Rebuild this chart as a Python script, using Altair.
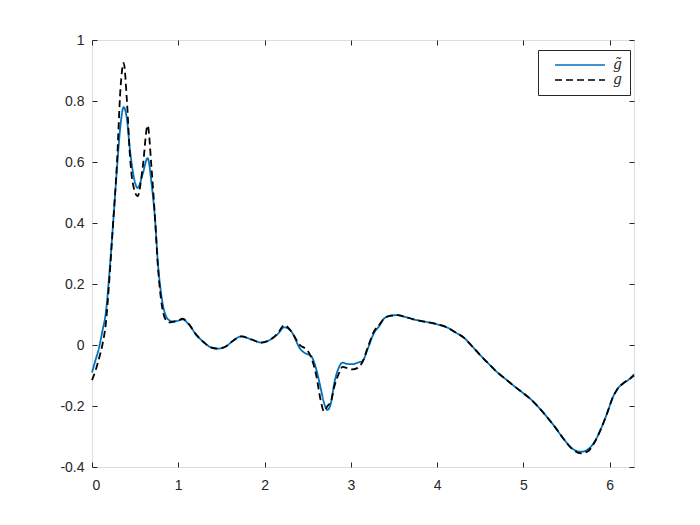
import altair as alt
import pandas as pd

# x positions of readings (radians, 0..2*pi)
x_vals = [0, 0.04, 0.085, 0.12, 0.162, 0.2, 0.24, 0.29, 0.33, 0.367, 0.405, 0.44, 0.47, 0.529,
          0.587, 0.645, 0.69, 0.734, 0.761, 0.8, 0.857, 0.9, 0.935, 1.0, 1.05, 1.12, 1.205, 1.30,
          1.38, 1.456, 1.55, 1.64, 1.73, 1.85, 1.96, 2.07, 2.15, 2.23, 2.306, 2.42, 2.46, 2.54,
          2.6, 2.65, 2.69, 2.73, 2.77, 2.81, 2.86, 2.905, 2.96, 3.02, 3.08, 3.137, 3.2, 3.27,
          3.33, 3.39, 3.465, 3.54, 3.62, 3.73, 3.85, 4.0, 4.12, 4.21, 4.31, 4.41, 4.51, 4.6,
          4.7, 4.8, 4.89, 5.0, 5.087, 5.18, 5.28, 5.37, 5.47, 5.57, 5.67, 5.75, 5.82, 5.9,
          5.975, 6.04, 6.09, 6.17, 6.23, 6.283]

# estimated g-tilde (solid blue)
g_tilde = [-0.09, -0.05, -0.005, 0.045, 0.11, 0.23, 0.38, 0.58, 0.72, 0.78, 0.74, 0.64, 0.575, 0.515,
           0.56, 0.613, 0.53, 0.4, 0.28, 0.171, 0.095, 0.08, 0.077, 0.08, 0.084, 0.068, 0.035, 0.008,
           -0.008, -0.012, -0.005, 0.015, 0.028, 0.018, 0.008, 0.018, 0.035, 0.058, 0.046, -0.015, -0.025, -0.036,
           -0.08, -0.14, -0.19, -0.213, -0.19, -0.123, -0.075, -0.058, -0.062, -0.063, -0.058, -0.052, -0.01, 0.04,
           0.062, 0.088, 0.096, 0.098, 0.093, 0.084, 0.077, 0.068, 0.057, 0.042, 0.024, -0.005, -0.036, -0.062,
           -0.09, -0.113, -0.134, -0.158, -0.178, -0.205, -0.238, -0.27, -0.309, -0.34, -0.35, -0.342, -0.32, -0.275,
           -0.221, -0.17, -0.145, -0.123, -0.112, -0.096]

# true g (dashed black)
g_true = [-0.115, -0.085, -0.04, 0.0, 0.075, 0.21, 0.38, 0.6, 0.84, 0.925, 0.8, 0.62, 0.535, 0.488,
          0.58, 0.72, 0.58, 0.4, 0.27, 0.15, 0.082, 0.074, 0.076, 0.08, 0.086, 0.07, 0.035, 0.008,
          -0.008, -0.012, -0.005, 0.015, 0.028, 0.018, 0.008, 0.018, 0.037, 0.065, 0.046, -0.003, -0.009, -0.04,
          -0.1, -0.18, -0.218, -0.2, -0.185, -0.135, -0.095, -0.072, -0.076, -0.08, -0.075, -0.055, -0.005, 0.045,
          0.066, 0.088, 0.096, 0.098, 0.093, 0.084, 0.077, 0.068, 0.057, 0.042, 0.024, -0.005, -0.036, -0.062,
          -0.09, -0.113, -0.134, -0.158, -0.178, -0.205, -0.238, -0.27, -0.309, -0.342, -0.355, -0.348, -0.322, -0.275,
          -0.221, -0.17, -0.145, -0.123, -0.112, -0.1]

series_names = ["g\u0303", "g"]
x_ticks = [0, 1, 2, 3, 4, 5, 6]
y_ticks = [-0.4, -0.2, 0, 0.2, 0.4, 0.6, 0.8, 1]

assert len(x_vals) == len(g_tilde) == len(g_true)

df = pd.concat([
    pd.DataFrame({"x": x_vals, "y": g_tilde, "series": series_names[0], "order": 0}),
    pd.DataFrame({"x": x_vals, "y": g_true, "series": series_names[1], "order": 1}),
])

W, H = 542, 427
AX = "#262626"
FONT = "Liberation Sans"

xscale = alt.Scale(domain=[0, 6.283185], nice=False, zero=False)
yscale = alt.Scale(domain=[-0.4, 1], nice=False, zero=False)

legend = alt.Legend(
    title=None, orient="none", legendX=446, legendY=10,
    strokeColor=AX, fillColor="white", padding=8,
    symbolType="M-5,0H5", symbolSize=100, symbolStrokeWidth=1.6, symbolOffset=27,
    labelFont="DejaVu Serif", labelFontStyle="italic", labelFontSize=14, labelColor=AX,
    labelOffset=26, rowPadding=1,
)

base = alt.Chart(df)

lines = base.mark_line(interpolate="monotone", strokeWidth=1.8).encode(
    x=alt.X("x:Q", scale=xscale, title=None,
            axis=alt.Axis(orient="bottom", values=x_ticks, ticks=False, domain=False, grid=False,
                          labelFont=FONT, labelFontSize=14, labelColor=AX, labelPadding=11,
                          labelExpr="toString(round(datum.value*10)/10)")),
    y=alt.Y("y:Q", scale=yscale, title=None,
            axis=alt.Axis(orient="left", values=y_ticks, ticks=False, domain=False, grid=False,
                          labelFont=FONT, labelFontSize=14, labelColor=AX, labelPadding=8,
                          labelExpr="toString(round(datum.value*10)/10)")),
    color=alt.Color("series:N", scale=alt.Scale(domain=series_names, range=["#0072BD", "#000000"]),
                    legend=legend),
    strokeDash=alt.StrokeDash("series:N", scale=alt.Scale(domain=series_names, range=[[1, 0], [7, 4]]),
                              legend=legend),
    order="order:Q",
)

def tick_axis(xorient, yorient):
    return base.mark_line(opacity=0).encode(
        x=alt.X("x:Q", scale=xscale, title=None,
                axis=alt.Axis(orient=xorient, offset=-H, values=x_ticks, labels=False, domain=False,
                              grid=False, ticks=True, tickSize=5, tickColor=AX, tickWidth=1)),
        y=alt.Y("y:Q", scale=yscale, title=None,
                axis=alt.Axis(orient=yorient, offset=-W, values=y_ticks, labels=False, domain=False,
                              grid=False, ticks=True, tickSize=5, tickColor=AX, tickWidth=1)),
        detail="series:N",
    )

chart = alt.layer(lines, tick_axis("top", "right"), tick_axis("bottom", "left")).resolve_axis(
    x="independent", y="independent"
).properties(
    width=W, height=H,
    autosize=alt.AutoSizeParams(type="none"),
    padding={"left": 84, "top": 32, "right": 40, "bottom": 40},
).configure_view(stroke=AX, strokeWidth=1).configure(background="white")

chart.save("out.html", embed_options={"renderer": "svg", "actions": False})
